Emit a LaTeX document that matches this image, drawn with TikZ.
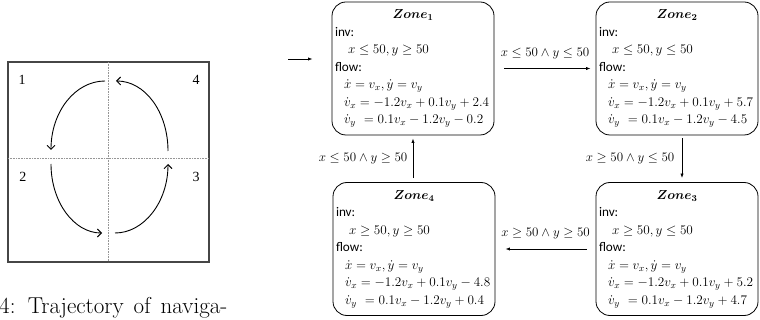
\RequirePackage{fix-cm}
\documentclass[tikz,border=0pt]{standalone}
\usepackage{amsmath}
\usepackage{bm}
\usepackage{fontspec}
\usepackage{xcolor}
\usetikzlibrary{arrows.meta, positioning, calc}
\newfontfamily\zonefont{Carlito}
\newfontfamily\quadfont{Liberation Serif}
\definecolor{framegray}{RGB}{70,70,70}
\definecolor{gridgray}{RGB}{150,150,150}

\newcommand{\zonebody}[4]{%
  \makebox[156pt][c]{\fontsize{13}{17.5}\selectfont$\bm{Zone_{#1}}$}\\
  inv:\\
  \hspace*{13pt}$#2$\\
  flow:\\
  \hspace*{9pt}$\dot{x} = v_x, \dot{y} = v_y$\\
  \hspace*{9pt}$\dot{v}_x = -1.2v_x + 0.1v_y #3$\\
  \hspace*{9pt}$\dot{v}_y\ = 0.1v_x - 1.2v_y #4$}

\tikzset{
  zone/.style={draw, rounded corners=14pt, line width=0.8pt, minimum width=162pt,
    minimum height=133pt, text width=156pt, inner xsep=3pt, align=left,
    font=\zonefont\fontsize{13.2}{17.5}\selectfont},
  guard/.style={-{Latex[length=4.5pt,width=3.2pt]}, line width=0.7pt},
  turn/.style={-{Straight Barb[length=4pt,width=8pt]}, line width=0.9pt},
  quadnum/.style={font=\quadfont\fontsize{14}{16}\selectfont, inner sep=0pt}
}

\begin{document}
\begin{tikzpicture}[x=1pt, y=-1pt, every node/.style={font=\fontsize{13}{16}\selectfont}]
  \useasboundingbox (0,0) rectangle (760,320);

  \draw[framegray, line width=1.2pt] (8,62) rectangle (209,262);
  \draw[gridgray, densely dotted, line width=0.6pt] (108,62) -- (108,262) (8,158) -- (209,158);
  \node[quadnum] (q1) at (22,80) {1};
  \node[quadnum] (q4) at (196,80) {4};
  \node[quadnum] (q2) at (23,177) {2};
  \node[quadnum] (q3) at (196,177) {3};
  \draw[turn] (105,81) .. controls (75,81) and (51,112) .. (51,150);
  \draw[turn] (51,164) .. controls (51,202) and (74,233) .. (102,233);
  \draw[turn] (115,233) .. controls (144,233) and (168,202) .. (168,164);
  \draw[turn] (168,151) .. controls (168,112) and (145,81) .. (116,81);
  \node[anchor=base west, inner sep=0pt, font=\rmfamily\fontsize{23}{28}\selectfont] (caption) at (-1,313)
    {\spaceskip=10pt\relax 4: Trajectory of naviga-};

  \node[zone] (z1) at (413,68.5) {\zonebody{1}{x \le 50, y \ge 50}{+ 2.4}{- 0.2}};
  \node[zone] (z2) at (677,68.5) {\zonebody{2}{x \le 50, y \le 50}{+ 5.7}{- 4.5}};
  \node[zone] (z3) at (677,249) {\zonebody{3}{x \ge 50, y \le 50}{+ 5.2}{+ 4.7}};
  \node[zone] (z4) at (414,249) {\zonebody{4}{x \ge 50, y \ge 50}{- 4.8}{+ 0.4}};

  \coordinate (init) at (288,59);
  \draw[guard, shorten >=19pt] (init) -- (init -| z1.west);
  \draw[guard, shorten <=10pt, shorten >=5pt] (z1) -- node[above=6pt] {$x \le 50 \land y \le 50$} (z2);
  \draw[guard, shorten <=3pt, shorten >=4pt] ([xshift=5pt]z2.south) -- node[left=4pt] {$x \ge 50 \land y \le 50$} ([xshift=5pt]z3.north);
  \draw[guard, shorten <=9pt, shorten >=10pt] (z3) -- node[above=6pt] {$x \ge 50 \land y \ge 50$} (z4);
  \draw[guard, shorten <=4pt, shorten >=3pt] (z4.north -| z1) -- node[left=2pt] {$x \le 50 \land y \ge 50$} (z1.south);
\end{tikzpicture}
\end{document}
